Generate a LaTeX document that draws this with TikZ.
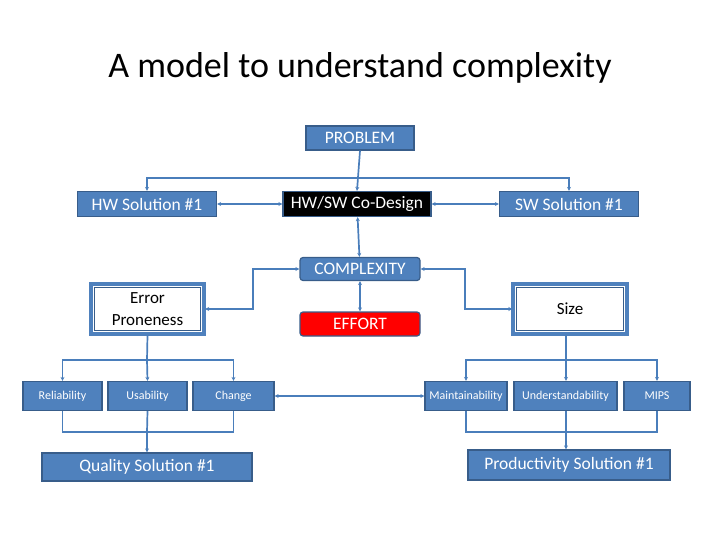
\documentclass[tikz,border=0pt]{standalone}
\usepackage{fontspec}
\setmainfont{Carlito}
\usetikzlibrary{arrows.meta}
\definecolor{bfill}{HTML}{4F81BD}
\definecolor{bline}{HTML}{385D8A}
\definecolor{conn}{HTML}{4A7EBB}
\begin{document}
\begin{tikzpicture}[x=1pt,y=-1pt,
 box/.style={draw=bline,line width=1.2pt,fill=bfill,text=white,inner sep=0pt,font=\fontsize{17.5}{20}\selectfont},
 sbox/.style={box,font=\fontsize{12}{14}\selectfont},
 c/.style={draw=conn,line width=1.7pt},
 a/.style={c,-{Stealth[length=4pt,width=4pt]}},
 aa/.style={c,{Stealth[length=4pt,width=4pt]}-{Stealth[length=4pt,width=4pt]}}]
\useasboundingbox (0,0) rectangle (720,540);
\node[font=\fontsize{36}{40}\selectfont] (title) at (360,68) {A model to understand complexity};
\node[box,minimum width=108,minimum height=24] (prob) at (360,138) {PROBLEM};
\node[box,minimum width=139,minimum height=25] (hw) at (147,204) {HW Solution \#1};
\node[box,fill=black,draw=bline,minimum width=148,minimum height=25] (co) at (357,204) {HW/SW Co-Design};
\node[box,minimum width=139,minimum height=25] (sw) at (569,204) {SW Solution \#1};
\node[box,rounded corners=3pt,minimum width=120,minimum height=23] (cx) at (360,269) {COMPLEXITY};
\node[box,fill=red,draw=bline,rounded corners=3pt,minimum width=120,minimum height=24] (ef) at (360,324) {EFFORT};
\draw[draw=bfill,line width=3.5pt,fill=white] (91,284) rectangle (204,334);
\draw[draw=bline,line width=0.8pt] (94.5,287.5) rectangle (200.5,330.5);
\node[align=center,font=\fontsize{17}{22}\selectfont,minimum width=115,minimum height=52] (ep) at (147.5,309) {Error\\Proneness};
\draw[draw=bfill,line width=3.5pt,fill=white] (513,284) rectangle (627,334);
\draw[draw=bline,line width=0.8pt] (516.5,287.5) rectangle (623.5,330.5);
\node[font=\fontsize{17}{20}\selectfont,minimum width=115,minimum height=52] (sz) at (570,309) {Size};
\node[sbox,minimum width=79,minimum height=29] (rel) at (62.5,396) {Reliability};
\node[sbox,minimum width=79,minimum height=29] (usa) at (147.5,396) {Usability};
\node[sbox,minimum width=81,minimum height=29] (chg) at (233.5,396) {Change};
\node[sbox,minimum width=82,minimum height=29] (mai) at (466,396) {Maintainability};
\node[sbox,minimum width=103,minimum height=29] (und) at (565.5,396) {Understandability};
\node[sbox,minimum width=66,minimum height=29] (mips) at (657,396) {MIPS};
\node[box,minimum width=210,minimum height=28] (qs) at (147,467) {Quality Solution \#1};
\node[box,minimum width=202,minimum height=30] (ps) at (569,465) {Productivity Solution \#1};
% top
\draw[a] (prob.south) -- (co.north);
\draw[a] (prob.south |- 0,178) -| (hw.north);
\draw[a] (prob.south |- 0,178) -| (sw.north);
\draw[aa] (hw) -- (co);
\draw[aa] (co) -- (sw);
\draw[aa] (co) -- (cx);
\draw[aa] (cx) -- (ef);
\draw[aa] (cx.west) -| (253,309) -- (ep.east);
\draw[aa] (cx.east) -| (465,309) -- (sz.west);
% left group
\coordinate (l1) at (147,360);
\draw[c] (ep.south) -- (l1);
\draw[a] (l1) -| (rel.north);
\draw[a] (l1) -- (usa.north);
\draw[a] (l1) -| (chg.north);
\coordinate (l2) at (147,432);
\draw[c] (rel.south) |- (l2);
\draw[c] (chg.south) |- (l2);
\draw[c] (usa.south) -- (l2);
\draw[a] (l2) -- (qs.north);
\draw[aa] (chg) -- (mai);
% right group
\coordinate (r1) at (566,360);
\draw[c] (sz.south -| r1) -- (r1);
\draw[a] (r1) -| (mai.north);
\draw[a] (r1) -- (r1 |- und.north);
\draw[a] (r1) -| (mips.north);
\coordinate (r2) at (566,432);
\draw[c] (mai.south) |- (r2);
\draw[c] (mips.south) |- (r2);
\draw[c] (r1 |- und.south) -- (r2);
\draw[a] (r2) -- (r2 |- ps.north);
\end{tikzpicture}
\end{document}
